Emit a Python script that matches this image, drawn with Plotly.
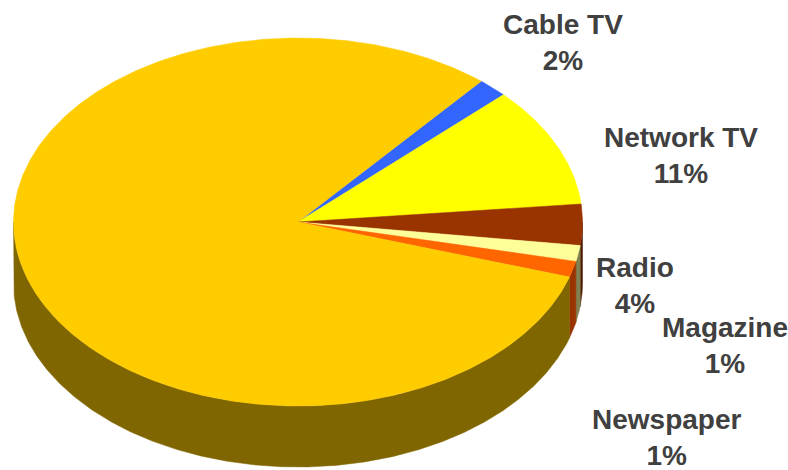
import math
import plotly.graph_objects as go

# Media spend shares, in percent, clockwise from the Cable TV slice
categories = ["Cable TV", "Network TV", "Radio", "Magazine", "Newspaper", "Other"]
shares = [1.7, 10.6, 3.6, 1.4, 1.4, 81.3]
top_colors = ["#3366FF", "#FFFF00", "#993300", "#FFFF99", "#FF6600", "#FFCC00"]
side_colors = ["#1A3380", "#808000", "#4D1A00", "#808050", "#993300", "#806600"]

# Label anchors for the named slices
label_x = [562.5, 681, 635, 724.5, 666.5]
label_y = [42, 155, 285, 345, 437]

# Pie geometry in page units
CX, CY, RX, RY, DEPTH = 298, 222, 284.5, 184, 61
START_DEG = 49.9
TEXT_COLOR = "#404040"


def rim(deg, drop=0):
    t = math.radians(deg)
    return CX + RX * math.cos(t), CY - RY * math.sin(t) + drop


def arc(a0, a1, drop=0):
    n = max(2, int(abs(a1 - a0) * 2))
    return [rim(a0 + (a1 - a0) * i / n, drop) for i in range(n + 1)]


def add_poly(fig, pts, color):
    fig.add_trace(go.Scatter(
        x=[p[0] for p in pts] + [pts[0][0]],
        y=[p[1] for p in pts] + [pts[0][1]],
        mode="lines", fill="toself", fillcolor=color,
        line=dict(color=color, width=0.5), hoverinfo="skip", showlegend=False,
    ))


# Angular span of each slice, going clockwise
spans = []
angle = START_DEG
for share in shares:
    sweep = share * 3.6
    spans.append((angle, angle - sweep))
    angle -= sweep

fig = go.Figure()

# Outer walls: only the part of each rim on the lower half of the ellipse shows
for (a0, a1), color in zip(spans, side_colors):
    for lo, hi in ((-180, 0), (-540, -360)):
        start, end = min(a0, hi), max(a1, lo)
        if start > end:
            add_poly(fig, arc(start, end) + arc(end, start, DEPTH), color)

# Top faces
for (a0, a1), color in zip(spans, top_colors):
    add_poly(fig, [(CX, CY)] + arc(a0, a1), color)

layout_labels = [
    dict(
        x=x, y=y, xref="x", yref="y", showarrow=False, align="center",
        text=f"<b>{name}<br>{share:.0f}%</b>",
        font=dict(family="Liberation Sans, Arial, sans-serif", size=28, color=TEXT_COLOR),
    )
    for name, share, x, y in zip(categories, shares, label_x, label_y)
]

fig.update_layout(
    width=788, height=470,
    margin=dict(l=0, r=0, t=0, b=0),
    paper_bgcolor="white", plot_bgcolor="white",
    showlegend=False,
    xaxis=dict(range=[0, 788], visible=False, fixedrange=True),
    yaxis=dict(range=[470, 0], visible=False, fixedrange=True),
    annotations=layout_labels,
)

fig.write_html("out.html", config={"displayModeBar": False})
